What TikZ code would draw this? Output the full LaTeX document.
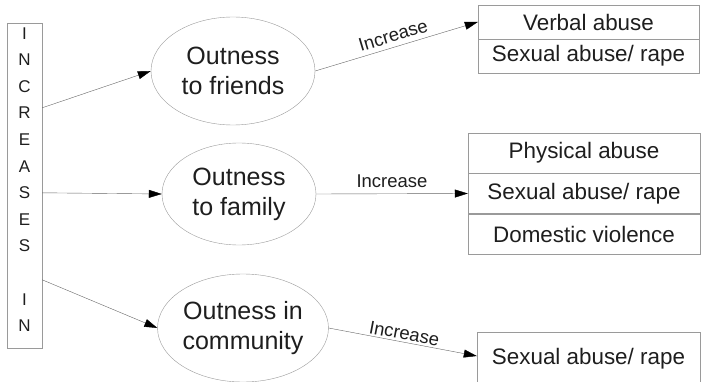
\documentclass[tikz,border=0pt]{standalone}
\usepackage{fontspec}
\setmainfont{Liberation Sans}
\usetikzlibrary{arrows.meta,shapes.geometric}
\definecolor{linegray}{HTML}{666666}
\definecolor{boxgray}{HTML}{9A9A9A}
\definecolor{inkgray}{HTML}{1E1E1E}

\begin{document}
\begin{tikzpicture}[
  x=1pt,y=-1pt,
  sidebox/.style={draw=boxgray,minimum width=35pt,minimum height=325pt,inner sep=0pt},
  sidetext/.style={text=inkgray,align=center,font=\fontsize{17}{26.6}\selectfont,inner sep=0pt},
  oval/.style={ellipse,draw=boxgray,text=inkgray,align=center,font=\fontsize{25}{30}\selectfont,inner sep=0pt},
  cell/.style={draw=boxgray,text=inkgray,font=\fontsize{22.4}{26}\selectfont,inner sep=0pt},
  arr/.style={draw=linegray,-{Triangle[length=13pt,width=8pt,color=black]}},
  tag/.style={text=inkgray,font=\fontsize{18.5}{22}\selectfont,sloped,inner sep=2pt}
]
\useasboundingbox (0,0) rectangle (701,382);
% left column
\node[sidebox] (side) at (24.5,185.5) {};
\node[sidetext] (word) at (24.5,179.5) {I\\N\\C\\R\\E\\A\\S\\E\\S\\[26.6pt]I\\N};
% outness ovals
\node[oval,minimum width=164pt,minimum height=108pt] (friends) at (233,71) {Outness\\to friends};
\node[oval,minimum width=154pt,minimum height=102pt] (family) at (239,194) {Outness\\to family};
\node[oval,minimum width=162pt,minimum height=108pt] (community) at (243,328) {Outness in\\community};
% outcome boxes
\node[cell,minimum width=221pt,minimum height=34pt] (verbal) at (588.5,22) {Verbal abuse};
\node[cell,minimum width=221pt,minimum height=34pt] (sexfr) at (588.5,56) {Sexual abuse/ rape};
\node[cell,minimum width=232pt,minimum height=40.3pt] (physical) at (584,153) {Physical abuse};
\node[cell,minimum width=232pt,minimum height=40.3pt] (sexfa) at (584,193.5) {Sexual abuse/ rape};
\node[cell,minimum width=232pt,minimum height=40.3pt] (domestic) at (584,234) {Domestic violence};
\node[cell,minimum width=223pt,text height=29pt,text depth=19pt,inner ysep=3pt] (sexcom) at (588.5,359) {Sexual abuse/ rape};
% connectors
\draw[arr] ([yshift=-85pt]side.north east) -- (friends.west);
\draw[arr] ([yshift=-170pt]side.north east) -- (family.west);
\draw[arr] ([yshift=-257pt]side.north east) -- (community.west);
\draw[arr] (friends.east) -- node[tag,above=3pt] {Increase} (verbal.west);
\draw[arr] (family.east) -- node[tag,above=4pt] {Increase} (sexfa.west);
\draw[arr] (community.east) -- node[tag,above=0pt] {Increase} ([yshift=3pt]sexcom.west);
\end{tikzpicture}
\end{document}
